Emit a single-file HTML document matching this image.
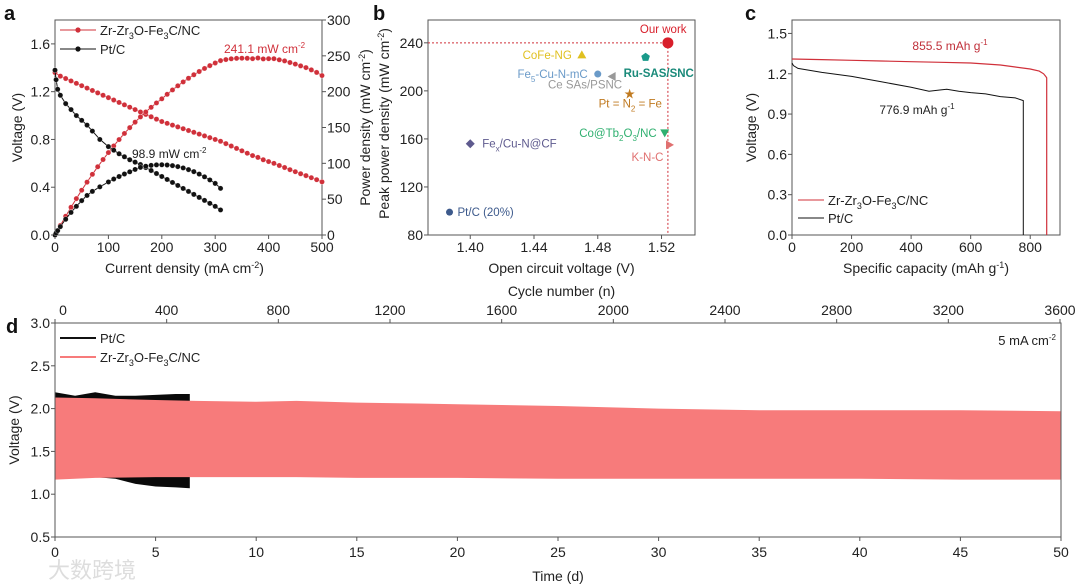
<!DOCTYPE html>
<html><head><meta charset="utf-8"><style>
body{margin:0;background:#fff;}
svg{display:block;font-family:"Liberation Sans","Noto Sans CJK SC",sans-serif;}
</style></head><body>
<svg id="fig" width="1080" height="586" viewBox="0 0 1080 586"></svg>
<script>
// ---------- DATA ----------
// Panel a
const aRedI = [0,10,20,30,40,50,60,70,80,90,100,110,120,130,140,150,160,170,180,190,200,210,220,230,240,250,260,270,280,290,300,310,320,330,340,350,360,370,380,390,400,410,420,430,440,450,460,470,480,490,500];
const aRedV = [1.36,1.33,1.31,1.29,1.27,1.25,1.23,1.21,1.19,1.17,1.15,1.13,1.11,1.09,1.07,1.05,1.03,1.01,0.99,0.97,0.95,0.935,0.92,0.905,0.89,0.875,0.86,0.845,0.83,0.815,0.80,0.785,0.765,0.745,0.725,0.705,0.685,0.665,0.65,0.63,0.615,0.6,0.582,0.565,0.547,0.53,0.513,0.497,0.48,0.463,0.445];
const aPtI = [0,2,5,10,20,30,40,50,60,70,84,100,110,120,130,140,150,160,170,180,190,200,210,220,230,240,250,260,270,280,290,300,310];
const aPtV = [1.38,1.3,1.22,1.17,1.1,1.05,1.0,0.96,0.92,0.87,0.8,0.74,0.71,0.68,0.655,0.63,0.61,0.59,0.565,0.54,0.515,0.49,0.465,0.44,0.415,0.39,0.365,0.34,0.315,0.29,0.265,0.24,0.21];
const aYTicks = ["0.0","0.4","0.8","1.2","1.6"];
const aY2Ticks = ["0","50","100","150","200","250","300"];
const aXTicks = ["0","100","200","300","400","500"];
// Panel b
const bNames = ["Pt/C (20%)","Fex/Cu-N@CF","CoFe-NG","Fe5-Cu-N-mC","Ce SAs/PSNC","Ru-SAS/SNC","Pt = N2 = Fe","Co@Tb2O3/NC","K-N-C","Our work"];
const bOCV = [1.387,1.400,1.470,1.480,1.489,1.510,1.500,1.522,1.525,1.524];
const bPPD = [99,156,230,214,212,228,198,165,155,240];
const bXTicks = ["1.40","1.44","1.48","1.52"];
const bYTicks = ["80","120","160","200","240"];
// Panel c
const cRedX = [0,100,200,300,400,500,600,700,750,800,830,845,852,855.5,855.5];
const cRedV = [1.31,1.305,1.30,1.295,1.29,1.285,1.28,1.265,1.25,1.235,1.22,1.2,1.18,1.17,0];
const cPtX = [0,5,20,100,200,300,400,460,500,520,560,600,650,700,750,776.9,776.9];
const cPtV = [1.28,1.26,1.24,1.21,1.18,1.14,1.10,1.07,1.08,1.085,1.07,1.06,1.05,1.03,1.02,1.0,0];
const cXTicks = ["0","200","400","600","800"];
const cYTicks = ["0.0","0.3","0.6","0.9","1.2","1.5"];
// Panel d
const dRedT = [0,2,5,7,10,12,15,18,20,25,30,35,40,45,50];
const dRedTop = [2.13,2.12,2.10,2.09,2.08,2.09,2.07,2.06,2.05,2.03,2.0,1.98,1.98,1.98,1.97];
const dRedBot = [1.17,1.19,1.2,1.2,1.2,1.2,1.19,1.19,1.19,1.18,1.18,1.18,1.18,1.17,1.17];
const dPtT = [0,1,2,3,4,5,6,6.7];
const dPtTop = [2.19,2.15,2.19,2.15,2.15,2.16,2.17,2.17];
const dPtBot = [1.19,1.2,1.2,1.18,1.12,1.09,1.08,1.07];
const dXTicks = ["0","5","10","15","20","25","30","35","40","45","50"];
const dX2Ticks = ["0","400","800","1200","1600","2000","2400","2800","3200","3600"];
const dYTicks = ["0.5","1.0","1.5","2.0","2.5","3.0"];

// ---------- HELPERS ----------
const NS="http://www.w3.org/2000/svg";
const svg=document.getElementById('fig');
function mk(tag,attrs,parent){const e=document.createElementNS(NS,tag);for(const k in attrs)e.setAttribute(k,attrs[k]);(parent||svg).appendChild(e);return e;}
function txt(x,y,s,size,anchor,fill,parent,extra){const t=mk('text',Object.assign({x:x,y:y,'font-size':size,'text-anchor':anchor||'start',fill:fill||'#222'},extra||{}),parent);t.innerHTML=s;return t;}
function scale(d0,d1,r0,r1){return v=>r0+(v-d0)/(d1-d0)*(r1-r0);}
function frame(g,L,T,R,B){mk('rect',{x:L,y:T,width:R-L,height:B-T,fill:'none',stroke:'#555','stroke-width':1},g);}
function path(pts){return pts.map((p,i)=>(i?'L':'M')+p[0].toFixed(1)+','+p[1].toFixed(1)).join('');}

// ---------- PANEL A ----------
(function(){
const g=mk('g',{});


const L=55,T=20,R=322,B=235;
const x=scale(0,500,L,R), y=scale(0,1.8,B,T), y2=scale(0,300,B,T);
frame(g,L,T,R,B);
aXTicks.forEach(s=>{const v=+s;mk('line',{x1:x(v),x2:x(v),y1:B,y2:B+4,stroke:'#555'},g);txt(x(v),B+17,s,14,'middle','#222',g);});
aYTicks.forEach(s=>{const v=+s;mk('line',{x1:L,x2:L-4,y1:y(v),y2:y(v),stroke:'#555'},g);txt(L-5,y(v)+5,s,14,'end','#222',g);});
aY2Ticks.forEach(s=>{const v=+s;mk('line',{x1:R,x2:R+4,y1:y2(v),y2:y2(v),stroke:'#555'},g);txt(R+5,y2(v)+5,s,14,'start','#222',g);});
txt(L+50,B+38,'Current density (mA cm<tspan dy="-5" font-size="9">-2</tspan><tspan dy="5">)</tspan>',14,'start','#222',g);
txt(0,0,'Voltage (V)',14,'middle','#222',g,{transform:'translate(22,'+(T+B)/2+') rotate(-90)'});
txt(0,0,'Power density (mW cm<tspan dy="-5" font-size="9">-2</tspan><tspan dy="5">)</tspan>',14,'middle','#222',g,{transform:'translate(370,'+(T+B)/2+') rotate(-90)'});
txt(4,20,'a',20,'start','#111',g,{'font-weight':'bold'});
function series(xs,ys,col,name){
  const pts=xs.map((v,i)=>[x(v),ys(i)]);
  const p=mk('path',{d:path(pts),fill:'none',stroke:col,'stroke-width':1},g);
  
  
  pts.forEach(q=>{const c=mk('circle',{cx:q[0],cy:q[1],r:2.6,fill:col,stroke:'#fff','stroke-width':0.3},g);
    
    });
}
series(aRedI,i=>y(aRedV[i]),'#d0303a','red-voltage');
series(aRedI,i=>y2(aRedV[i]*aRedI[i]),'#d0303a','red-power');
series(aPtI,i=>y(aPtV[i]),'#111','pt-voltage');
series(aPtI,i=>y2(aPtV[i]*aPtI[i]),'#111','pt-power');
mk('line',{x1:60,x2:96,y1:30,y2:30,stroke:'#d0303a'},g);mk('circle',{cx:78,cy:30,r:2.6,fill:'#d0303a'},g);
txt(100,35,'Zr-Zr<tspan dy="4" font-size="9">3</tspan><tspan dy="-4">O-Fe</tspan><tspan dy="4" font-size="9">3</tspan><tspan dy="-4">C/NC</tspan>',13,'start','#222',g);
mk('line',{x1:60,x2:96,y1:49,y2:49,stroke:'#111'},g);mk('circle',{cx:78,cy:49,r:2.6,fill:'#111'},g);
txt(100,54,'Pt/C',13,'start','#222',g);
txt(224,53,'241.1 mW cm<tspan dy="-5" font-size="8">-2</tspan>',12,'start','#d0303a',g);
txt(132,158,'98.9 mW cm<tspan dy="-5" font-size="8">-2</tspan>',12,'start','#222',g);
})();

// ---------- PANEL B ----------
(function(){
const g=mk('g',{});


const L=428,T=20,R=695,B=235;
const x=scale(1.3735,1.541,L,R), y=scale(80,259,B,T);
frame(g,L,T,R,B);
bXTicks.forEach(s=>{const v=+s;mk('line',{x1:x(v),x2:x(v),y1:B,y2:B+4,stroke:'#555'},g);txt(x(v),B+17,s,14,'middle','#222',g);});
bYTicks.forEach(s=>{const v=+s;mk('line',{x1:L,x2:L-4,y1:y(v),y2:y(v),stroke:'#555'},g);txt(L-5,y(v)+5,s,14,'end','#222',g);});
txt((L+R)/2,B+38,'Open circuit voltage (V)',14,'middle','#222',g);
txt((L+R)/2,B+61,'Cycle number (n)',14,'middle','#222',g);
txt(0,0,'Peak power density (mW cm<tspan dy="-5" font-size="9">-2</tspan><tspan dy="5">)</tspan>',14,'middle','#222',g,{transform:'translate(389,'+((T+B)/2-4)+') rotate(-90)'});
txt(373,20,'b',20,'start','#111',g,{'font-weight':'bold'});
const ow=bNames.length-1;
mk('path',{d:'M'+L+','+y(bPPD[ow])+'H'+x(bOCV[ow])+'V'+B,fill:'none',stroke:'#d0303a','stroke-width':1,'stroke-dasharray':'2,2'},g);
const cols=['#3d5a8c','#5e5a8e','#e0c020','#6a9ac8','#999','#1a9a8a','#c07a20','#30b070','#e07070','#d81e2a'];
const shapes=['c','d','tu','c','tl','p','s','td','tr','big'];
const labs=[[8,4,'start'],[12,4,'start'],[-10,4,'end'],[-10,4,'end'],[10,12,'end'],[-22,20,'start'],[-31,14,'start'],[-8,4,'end'],[-6,16,'end'],[-28,-10,'start']];
const labTxt=['Pt/C (20%)','Fe<tspan dy="4" font-size="8">x</tspan><tspan dy="-4">/Cu-N@CF</tspan>','CoFe-NG','Fe<tspan dy="4" font-size="8">5</tspan><tspan dy="-4">-Cu-N-mC</tspan>','Ce SAs/PSNC','Ru-SAS/SNC','Pt = N<tspan dy="4" font-size="8">2</tspan><tspan dy="-4"> = Fe</tspan>','Co@Tb<tspan dy="4" font-size="8">2</tspan><tspan dy="-4">O</tspan><tspan dy="4" font-size="8">3</tspan><tspan dy="-4">/NC</tspan>','K-N-C','Our work'];
bNames.forEach((n,i)=>{
  const cx=x(bOCV[i]),cy=y(bPPD[i]),c=cols[i];let e;
  const s=shapes[i];
  if(s==='c')e=mk('circle',{cx:cx,cy:cy,r:3.5,fill:c},g);
  else if(s==='big')e=mk('circle',{cx:cx,cy:cy,r:5.5,fill:c},g);
  else if(s==='d')e=mk('path',{d:`M${cx},${cy-4.5}L${cx+4.5},${cy}L${cx},${cy+4.5}L${cx-4.5},${cy}Z`,fill:c},g);
  else if(s==='tu')e=mk('path',{d:`M${cx},${cy-4.5}L${cx+4.5},${cy+3.5}L${cx-4.5},${cy+3.5}Z`,fill:c},g);
  else if(s==='td')e=mk('path',{d:`M${cx},${cy+4.5}L${cx+4.5},${cy-3.5}L${cx-4.5},${cy-3.5}Z`,fill:c},g);
  else if(s==='tl')e=mk('path',{d:`M${cx-4.5},${cy}L${cx+3.5},${cy-4.5}L${cx+3.5},${cy+4.5}Z`,fill:c},g);
  else if(s==='tr')e=mk('path',{d:`M${cx+4.5},${cy}L${cx-3.5},${cy-4.5}L${cx-3.5},${cy+4.5}Z`,fill:c},g);
  else if(s==='p')e=mk('path',{d:`M${cx},${cy-4.5}L${cx+4.3},${cy-1.4}L${cx+2.7},${cy+3.7}L${cx-2.7},${cy+3.7}L${cx-4.3},${cy-1.4}Z`,fill:c},g);
  else e=txt(cx,cy+4,'★',11,'middle',c,g);
  
  
  const lb=labs[i];
  const t=txt(cx+lb[0],cy+lb[1],labTxt[i],11.5,lb[2],(i==5?'#1a8a7a':c),g);
  if(i==5)t.setAttribute('font-weight','bold');
  
  
});
})();

// ---------- PANEL C ----------
(function(){
const g=mk('g',{});


const L=792,T=20,R=1060,B=235;
const x=scale(0,900,L,R), y=scale(0,1.6,B,T);
frame(g,L,T,R,B);
cXTicks.forEach(s=>{const v=+s;mk('line',{x1:x(v),x2:x(v),y1:B,y2:B+4,stroke:'#555'},g);txt(x(v),B+17,s,14,'middle','#222',g);});
cYTicks.forEach(s=>{const v=+s;mk('line',{x1:L,x2:L-4,y1:y(v),y2:y(v),stroke:'#555'},g);txt(L-5,y(v)+5,s,14,'end','#222',g);});
txt((L+R)/2,B+38,'Specific capacity (mAh g<tspan dy="-5" font-size="9">-1</tspan><tspan dy="5">)</tspan>',14,'middle','#222',g);
txt(0,0,'Voltage (V)',14,'middle','#222',g,{transform:'translate(756,'+(T+B)/2+') rotate(-90)'});
txt(745,20,'c',20,'start','#111',g,{'font-weight':'bold'});
const pr=mk('path',{d:path(cRedX.map((v,i)=>[x(v),y(cRedV[i])])),fill:'none',stroke:'#d0303a','stroke-width':1.2},g);


const pb=mk('path',{d:path(cPtX.map((v,i)=>[x(v),y(cPtV[i])])),fill:'none',stroke:'#111','stroke-width':1},g);


txt(950,50,'855.5 mAh g<tspan dy="-5" font-size="8">-1</tspan>',12,'middle','#c0303a',g);
txt(917,114,'776.9 mAh g<tspan dy="-5" font-size="8">-1</tspan>',12,'middle','#222',g);
mk('line',{x1:798,x2:824,y1:200,y2:200,stroke:'#d0303a'},g);
txt(828,205,'Zr-Zr<tspan dy="4" font-size="9">3</tspan><tspan dy="-4">O-Fe</tspan><tspan dy="4" font-size="9">3</tspan><tspan dy="-4">C/NC</tspan>',13,'start','#222',g);
mk('line',{x1:798,x2:824,y1:218,y2:218,stroke:'#111'},g);
txt(828,223,'Pt/C',13,'start','#222',g);
})();

// ---------- PANEL D ----------
(function(){
const g=mk('g',{});


const L=55,T=323,R=1061,B=537;
const x=scale(0,50,L,R), x2=scale(0,3600,L,R-1), y=scale(0.5,3.0,B,T);
function band(ts,top,bot,col,name){
  const pts=ts.map((t,i)=>[x(t),y(top[i])]).concat(ts.slice().reverse().map((t,j)=>[x(t),y(bot[ts.length-1-j])]));
  const p=mk('path',{d:path(pts)+'Z',fill:col,stroke:'none'},g);
  
  
}
band(dPtT,dPtTop,dPtBot,'#0a0a0a','ptc-cycling-band');
band(dRedT,dRedTop,dRedBot,'#f77b7b','zr-cycling-band');
frame(g,L,T,R,B);
dXTicks.forEach(s=>{const v=+s;mk('line',{x1:x(v),x2:x(v),y1:B,y2:B+4,stroke:'#555'},g);txt(x(v),B+20,s,14,'middle','#222',g);});
dX2Ticks.forEach(s=>{const v=+s;mk('line',{x1:x2(v),x2:x2(v),y1:T,y2:T-4,stroke:'#555'},g);txt(x2(v)+(v==0?8:0),T-8,s,14,'middle','#222',g);});
dYTicks.forEach(s=>{const v=+s;mk('line',{x1:L,x2:L-4,y1:y(v),y2:y(v),stroke:'#555'},g);txt(L-5,y(v)+5,s,14,'end','#222',g);});
txt((L+R)/2,B+44,'Time (d)',14,'middle','#222',g);
txt(0,0,'Voltage (V)',14,'middle','#222',g,{transform:'translate(19,'+(T+B)/2+') rotate(-90)'});
txt(6,333,'d',20,'start','#111',g,{'font-weight':'bold'});
mk('line',{x1:60,x2:96,y1:338,y2:338,stroke:'#111','stroke-width':2},g);
txt(100,343,'Pt/C',13,'start','#222',g);
mk('line',{x1:60,x2:96,y1:357,y2:357,stroke:'#f77b7b','stroke-width':2},g);
txt(100,362,'Zr-Zr<tspan dy="4" font-size="9">3</tspan><tspan dy="-4">O-Fe</tspan><tspan dy="4" font-size="9">3</tspan><tspan dy="-4">C/NC</tspan>',13,'start','#222',g);
txt(1056,345,'5 mA cm<tspan dy="-5" font-size="8">-2</tspan>',13,'end','#222',g);
const w=txt(48,578,'大数跨境',22,'start','#ddd',g);


})();
</script>
</body></html>
